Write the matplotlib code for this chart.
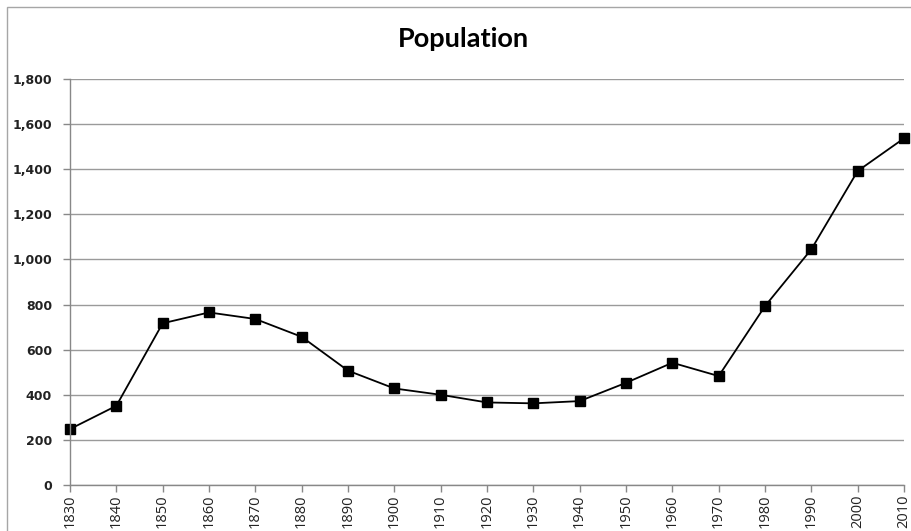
import matplotlib
matplotlib.use("Agg")
import matplotlib.pyplot as plt
from matplotlib.patches import Rectangle
from matplotlib.ticker import FuncFormatter, MultipleLocator

years = [1830, 1840, 1850, 1860, 1870, 1880, 1890, 1900, 1910, 1920,
         1930, 1940, 1950, 1960, 1970, 1980, 1990, 2000, 2010]
population = [248, 351, 717, 765, 736, 657, 507, 428, 400, 366,
              362, 372, 453, 542, 483, 793, 1045, 1392, 1537]
year_labels = [str(y) for y in years]
title = "Population"

W, H = 911, 531
fig = plt.figure(figsize=(W / 100, H / 100), dpi=100)
fig.patch.set_facecolor("white")

# outer chart frame
fig.patches.append(Rectangle((7 / W, -0.1), 2.0, 1.1 - 7 / H,
                             transform=fig.transFigure, fill=False,
                             edgecolor="#a6a6a6", linewidth=1.0))

ax = fig.add_axes([70 / W, (H - 485) / H, (904 - 70) / W, (485 - 79) / H])
ax.plot(range(len(years)), population, color="black", linewidth=1.3,
        marker="s", markersize=6.5, markerfacecolor="black",
        markeredgecolor="black", clip_on=False)

ax.set_xlim(0, len(years) - 1)
ax.set_ylim(0, 1800)
ax.yaxis.set_major_locator(MultipleLocator(200))
ax.yaxis.set_major_formatter(FuncFormatter(lambda v, p: f"{int(v):,}"))
ax.set_xticks(range(len(years)))
ax.set_xticklabels(year_labels, rotation=90, fontsize=10.5,
                   family="Open Sans", color="#222222")
ax.tick_params(axis="y", labelsize=9, length=5, width=1, color="#888888",
               pad=8, labelcolor="#222222")
ax.tick_params(axis="x", length=5, width=1, color="#888888", pad=2)
for lbl in ax.get_yticklabels():
    lbl.set_fontweight("bold")

ax.grid(axis="y", color="#9a9a9a", linewidth=1.0)
ax.set_axisbelow(True)
for side in ("top", "right"):
    ax.spines[side].set_visible(False)
for side in ("left", "bottom"):
    ax.spines[side].set_color("#888888")
    ax.spines[side].set_linewidth(1.0)

fig.text(463 / W, (H - 39) / H, title, ha="center", va="center",
         fontsize=19.5, fontweight="bold", family="Lato", color="black")

fig.savefig("out.png", dpi=100, facecolor="white")
